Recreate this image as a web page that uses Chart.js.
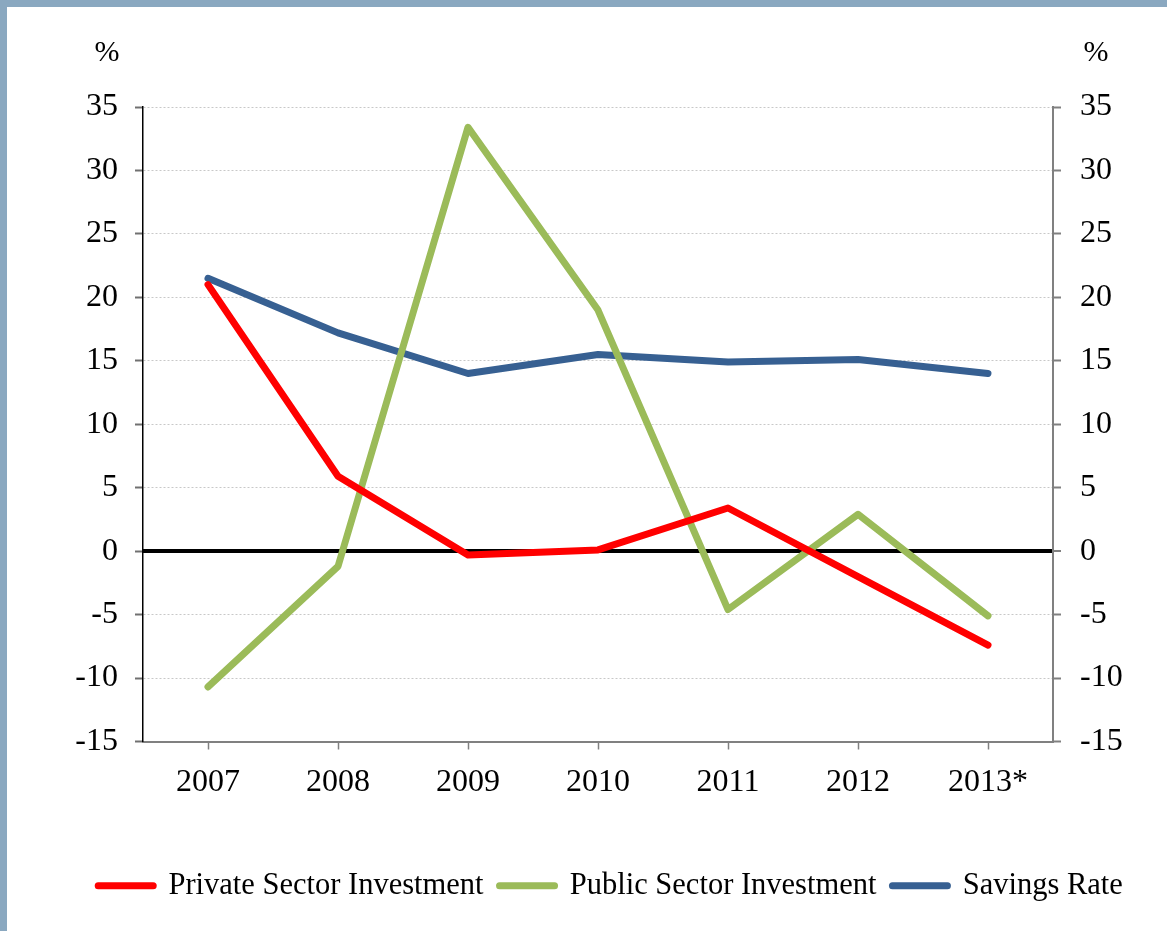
<!DOCTYPE html>
<html>
<head>
<meta charset="utf-8">
<title>Investment and Savings</title>
<script src="https://cdn.jsdelivr.net/npm/chart.js@4.4.0/dist/chart.umd.min.js"></script>
<style>
    html, body { margin: 0; padding: 0; background: #ffffff; }
    #frame {
        width: 1160px;
        height: 924px;
        border-top: 7px solid #8aa8c0;
        border-left: 7px solid #8aa8c0;
        background: #ffffff;
    }
    canvas { display: block; }
</style>
</head>
<body>
<div id="frame">
    <canvas id="investChart" width="1160" height="924"></canvas>
</div>
<script>
    // Annual figures, %
    const years = ['2007', '2008', '2009', '2010', '2011', '2012', '2013*'];
    const privateInvestment = [21.0, 5.9, -0.3, 0.1, 3.4, -2.0, -7.4];
    const publicInvestment = [-10.7, -1.2, 33.4, 19.0, -4.6, 2.9, -5.1];
    const savingsRate = [21.5, 17.2, 14.0, 15.5, 14.9, 15.1, 14.0];

    const Y_MIN = -15;
    const Y_MAX = 35;
    const Y_STEP = 5;
    const UNIT_LABEL = '%';

    const SERIF = "'Liberation Serif', 'Times New Roman', serif";
    Chart.defaults.font.family = SERIF;
    Chart.defaults.font.size = 32;
    Chart.defaults.color = '#000000';

    // writes the unit above both value axes
    const unitLabels = {
        id: 'unitLabels',
        afterDraw(chart) {
            const { ctx, chartArea } = chart;
            ctx.save();
            ctx.font = '30px ' + SERIF;
            ctx.fillStyle = '#000000';
            ctx.textAlign = 'center';
            ctx.textBaseline = 'middle';
            ctx.fillText(UNIT_LABEL, chartArea.left - 36, chartArea.top - 54);
            ctx.fillText(UNIT_LABEL, chartArea.right + 43, chartArea.top - 54);
            ctx.restore();
        }
    };

    function lineSeries(label, data, color) {
        return {
            label: label,
            data: data,
            borderColor: color,
            backgroundColor: color,
            borderWidth: 7,
            borderCapStyle: 'round',
            borderJoinStyle: 'round',
            pointRadius: 0,
            pointHoverRadius: 0,
            tension: 0
        };
    }

    // default legend items, with rounded ends on the line samples
    function legendItems(chart) {
        const items = Chart.defaults.plugins.legend.labels.generateLabels(chart);
        items.forEach((item) => { item.lineCap = 'round'; });
        return items;
    }

    const ctx = document.getElementById('investChart').getContext('2d');
    new Chart(ctx, {
        type: 'line',
        data: {
            labels: years,
            datasets: [
                lineSeries('Private Sector Investment', privateInvestment, '#ff0000'),
                lineSeries('Public Sector Investment', publicInvestment, '#9bbb59'),
                lineSeries('Savings Rate', savingsRate, '#376092')
            ]
        },
        options: {
            responsive: false,
            animation: false,
            layout: {
                padding: { top: 100, left: 47, right: 0, bottom: 20 }
            },
            plugins: {
                legend: {
                    position: 'bottom',
                    labels: {
                        usePointStyle: true,
                        pointStyle: 'line',
                        pointStyleWidth: 55,
                        boxHeight: 7,
                        padding: 16,
                        color: '#000000',
                        font: { size: 30.5 },
                        generateLabels: legendItems
                    }
                },
                tooltip: { enabled: false }
            },
            scales: {
                x: {
                    offset: true,
                    afterFit: (scale) => { scale.height = 113; },
                    grid: {
                        drawOnChartArea: false,
                        drawTicks: true,
                        tickLength: 8,
                        tickColor: '#808080',
                        tickWidth: 1.5
                    },
                    border: { color: '#808080', width: 2 },
                    ticks: { padding: 14, maxRotation: 0 }
                },
                y: {
                    position: 'left',
                    min: Y_MIN,
                    max: Y_MAX,
                    afterFit: (scale) => { scale.width = 89; },
                    grid: {
                        color: '#c8c8c8',
                        lineWidth: 1,
                        tickLength: 8,
                        tickColor: '#707070',
                        tickWidth: 2
                    },
                    border: { color: '#000000', width: 1.5, dash: [2, 2] },
                    ticks: { stepSize: Y_STEP, padding: 17 }
                },
                y1: {
                    position: 'right',
                    min: Y_MIN,
                    max: Y_MAX,
                    z: 1,
                    afterFit: (scale) => { scale.width = 114; },
                    grid: {
                        // only the zero line is drawn across the plot, on top of the series
                        color: (c) => (c.tick && c.tick.value === 0 ? '#000000' : 'rgba(0,0,0,0)'),
                        lineWidth: (c) => (c.tick && c.tick.value === 0 ? 4 : 1),
                        tickLength: 8,
                        tickColor: '#808080',
                        tickWidth: 2
                    },
                    border: { color: '#808080', width: 2 },
                    ticks: { stepSize: Y_STEP, padding: 19 }
                }
            }
        },
        plugins: [unitLabels]
    });
</script>
</body>
</html>
